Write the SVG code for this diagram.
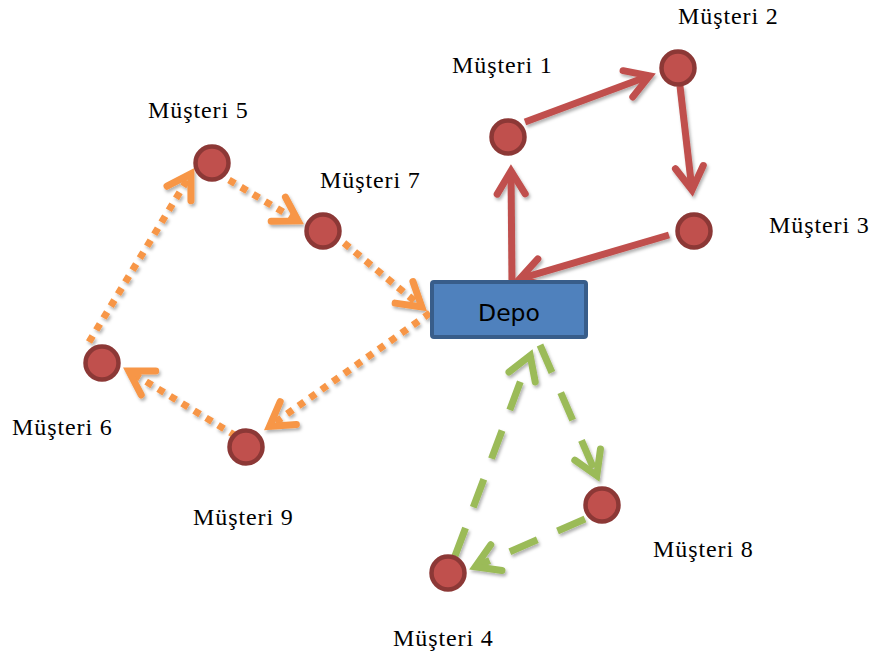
<svg xmlns="http://www.w3.org/2000/svg" width="873" height="653" viewBox="0 0 873 653">
<style>
.lbl{font-family:"Liberation Serif","Times New Roman",serif;font-size:24px;fill:#000;letter-spacing:0.9px}
.cust{fill:#c0504d;stroke:#8c3836;stroke-width:4.5}
.red{fill:none;stroke:#c0504d;stroke-width:7}
.org{fill:none;stroke:#f79646;stroke-width:7;stroke-dasharray:7 7}
.grn{fill:none;stroke:#9bbb59;stroke-width:7;stroke-dasharray:30 22}
</style>
<defs>
<filter id="sh" x="-20%" y="-20%" width="140%" height="140%">
<feDropShadow dx="1.5" dy="2.5" stdDeviation="1.5" flood-color="#000" flood-opacity="0.3"/>
</filter>
<marker id="aR" markerUnits="userSpaceOnUse" orient="auto" refX="0" refY="0" markerWidth="60" markerHeight="60" overflow="visible">
<path d="M -23,-14 L 0,0 L -23,14" fill="none" stroke="#c0504d" stroke-width="7" stroke-linecap="round" stroke-linejoin="miter"/>
</marker>
<marker id="aO" markerUnits="userSpaceOnUse" orient="auto" refX="0" refY="0" markerWidth="60" markerHeight="60" overflow="visible">
<path d="M -23,-14 L 0,0 L -23,14" fill="none" stroke="#f79646" stroke-width="7" stroke-linecap="round" stroke-linejoin="miter"/>
</marker>
<marker id="aG" markerUnits="userSpaceOnUse" orient="auto" refX="0" refY="0" markerWidth="60" markerHeight="60" overflow="visible">
<path d="M -23,-14 L 0,0 L -23,14" fill="none" stroke="#9bbb59" stroke-width="7" stroke-linecap="round" stroke-linejoin="miter"/>
</marker>
</defs>
<rect width="873" height="653" fill="#fff"/>

<g id="connectors" filter="url(#sh)">
<path class="red" d="M512,282 L511,171" marker-end="url(#aR)"/>
<path class="red" d="M525,122 L649.5,75.8" marker-end="url(#aR)"/>
<path class="red" d="M680,86 L692,190" marker-end="url(#aR)"/>
<path class="red" d="M669,235 L519.7,278.8" marker-end="url(#aR)"/>
<path class="org" d="M430,313 L269.5,426.4" marker-end="url(#aO)"/>
<path class="org" d="M236,436 L128.8,371.1" marker-end="url(#aO)"/>
<path class="org" d="M89,342 L190.9,173.8" marker-end="url(#aO)"/>
<path class="org" d="M229,180 L298.1,220.9" marker-end="url(#aO)"/>
<path class="org" d="M344,243 L421.8,306.9" marker-end="url(#aO)"/>
<path class="grn" d="M540,345 L596.8,475.7" marker-end="url(#aG)"/>
<path class="grn" d="M585,519 L475.3,566.8" marker-end="url(#aG)"/>
<path class="grn" d="M455,556 L530.2,355.5" marker-end="url(#aG)"/>
</g>

<g id="depo">
<rect x="432" y="282" width="154" height="55" rx="2" fill="#4f81bd" stroke="#385d8a" stroke-width="4"/>
<text x="509" y="321" text-anchor="middle" font-family="DejaVu Sans, Verdana, sans-serif" font-size="23.5" fill="#000">Depo</text>
</g>

<g id="m1"><circle class="cust" cx="508" cy="137" r="16.5"/><text class="lbl" x="452" y="73">Müşteri 1</text></g>
<g id="m2"><circle class="cust" cx="678" cy="68" r="16.5"/><text class="lbl" x="678" y="24">Müşteri 2</text></g>
<g id="m3"><circle class="cust" cx="694" cy="231" r="16.5"/><text class="lbl" x="769" y="233">Müşteri 3</text></g>
<g id="m5"><circle class="cust" cx="212" cy="163" r="16.5"/><text class="lbl" x="148" y="118">Müşteri 5</text></g>
<g id="m7"><circle class="cust" cx="323" cy="231" r="16.5"/><text class="lbl" x="320" y="188">Müşteri 7</text></g>
<g id="m6"><circle class="cust" cx="102" cy="363" r="16.5"/><text class="lbl" x="12" y="435">Müşteri 6</text></g>
<g id="m9"><circle class="cust" cx="246" cy="447" r="16.5"/><text class="lbl" x="193" y="525">Müşteri 9</text></g>
<g id="m8"><circle class="cust" cx="602" cy="505" r="16.5"/><text class="lbl" x="653" y="557">Müşteri 8</text></g>
<g id="m4"><circle class="cust" cx="448" cy="573" r="16.5"/><text class="lbl" x="393" y="646">Müşteri 4</text></g>
</svg>
